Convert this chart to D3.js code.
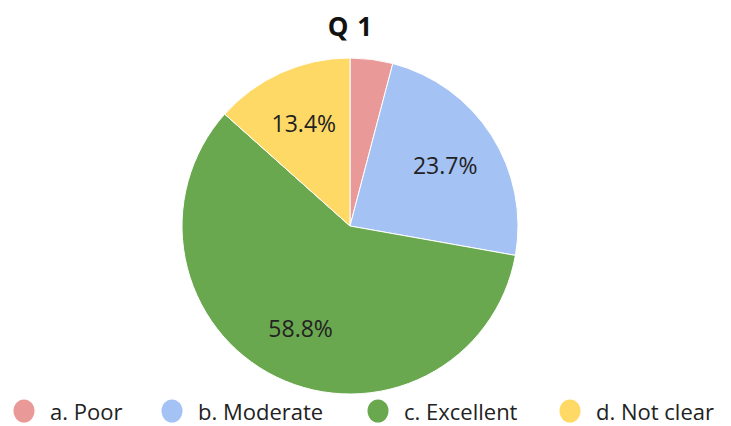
<!DOCTYPE html>
<html>
<head>
<meta charset="utf-8">
<script src="https://cdn.jsdelivr.net/npm/d3@7"></script>
<style>
  body { margin: 0; background: #fff; }
  text { font-family: "Open Sans", "DejaVu Sans", sans-serif; }
</style>
</head>
<body>
<svg id="svg" width="731" height="426"></svg>
<script>
// chart data
const categories = ["a. Poor", "b. Moderate", "c. Excellent", "d. Not clear"];
const values = [4.1, 23.7, 58.8, 13.4];
const colors = ["#EA9999", "#A4C2F4", "#6AA84F", "#FFD966"];
const showLabel = [false, true, true, true];
const title = "Q 1";

const cx = 350, cy = 226, radius = 168, labelRadius = 113;

const svg = d3.select("#svg");

svg.append("text")
  .attr("x", 350)
  .attr("y", 36)
  .attr("text-anchor", "middle")
  .attr("font-size", 26)
  .attr("font-weight", "bold")
  .attr("fill", "#111")
  .attr("word-spacing", 2)
  .text(title);

const pie = d3.pie().sort(null).value(d => d.value);
const arcs = pie(categories.map((c, i) => ({ name: c, value: values[i], i })));

const arc = d3.arc().innerRadius(0).outerRadius(radius);
const labelArc = d3.arc().innerRadius(labelRadius).outerRadius(labelRadius);

const g = svg.append("g").attr("transform", `translate(${cx},${cy})`);

g.selectAll("path")
  .data(arcs)
  .join("path")
  .attr("d", arc)
  .attr("fill", d => colors[d.data.i])
  .attr("stroke", "#fff")
  .attr("stroke-width", 1);

g.selectAll("text.lbl")
  .data(arcs.filter(d => showLabel[d.data.i]))
  .join("text")
  .attr("class", "lbl")
  .attr("transform", d => `translate(${labelArc.centroid(d)})`)
  .attr("text-anchor", "middle")
  .attr("dominant-baseline", "central")
  .attr("font-size", 23)
  .attr("fill", "#222")
  .text(d => d.data.value.toFixed(1) + "%");

// legend
const legendX = [24, 172, 378, 570];
const legend = svg.append("g").attr("transform", "translate(0,411)");
const item = legend.selectAll("g")
  .data(categories)
  .join("g")
  .attr("transform", (d, i) => `translate(${legendX[i]},0)`);

item.append("ellipse")
  .attr("rx", 10.5)
  .attr("ry", 11.5)
  .attr("fill", (d, i) => colors[i]);

item.append("text")
  .attr("x", 26)
  .attr("dominant-baseline", "central")
  .attr("font-size", 22)
  .attr("fill", "#222")
  .text(d => d);
</script>
</body>
</html>
